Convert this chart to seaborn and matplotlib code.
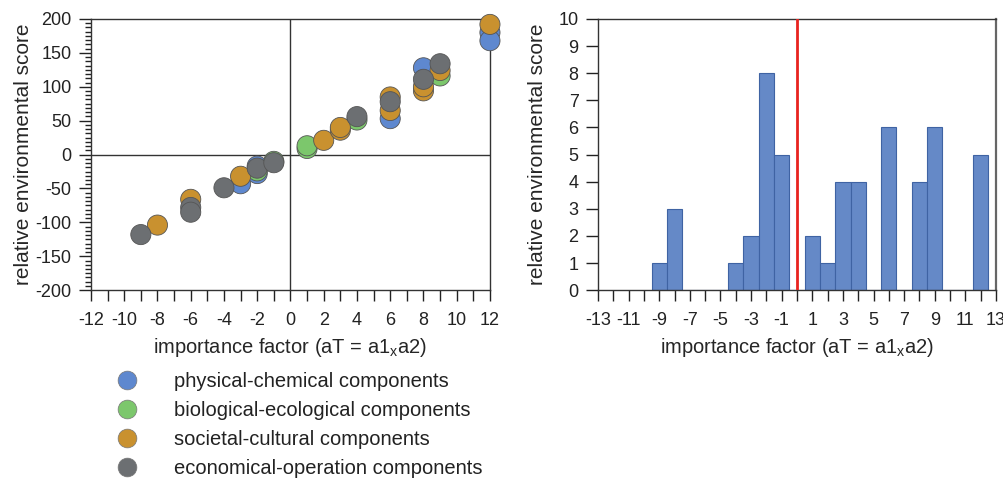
import numpy as np
import pandas as pd
import matplotlib
matplotlib.use("Agg")
import matplotlib.pyplot as plt
from matplotlib.ticker import MultipleLocator, AutoMinorLocator
from matplotlib.lines import Line2D
import seaborn as sns

# ---- data ----
categories = ["physical-chemical components", "biological-ecological components",
              "societal-cultural components", "economical-operation components"]
colors = ["#5E88CF", "#7CC76C", "#C9912F", "#6C6F72"]

phys_x = [-3, -2, -2, 6, 8, 12, 12]
phys_y = [-43, -28, -17, 53, 128, 180, 168]
bio_x = [-2, -1, 1, 1, 4, 9]
bio_y = [-24, -10, 9, 13, 51, 116]
soc_x = [-8, -6, -3, 2, 3, 3, 6, 6, 8, 8, 9, 12]
soc_y = [-104, -66, -32, 21, 36, 40, 65, 85, 94, 100, 124, 192]
eco_x = [-9, -6, -6, -4, -2, -1, 4, 6, 8, 9]
eco_y = [-118, -78, -85, -49, -20, -12, 56, 78, 111, 134]

hist_x = [-9, -8, -4, -3, -2, -1, 1, 2, 3, 4, 6, 8, 9, 12]
hist_counts = [1, 3, 1, 2, 8, 5, 2, 1, 4, 4, 6, 4, 6, 5]

left_xticks = list(range(-12, 13, 2))
right_xticks = list(range(-13, 14, 2))

rows = []
for cat, xs, ys in zip(categories, [phys_x, bio_x, soc_x, eco_x], [phys_y, bio_y, soc_y, eco_y]):
    for x, y in zip(xs, ys):
        rows.append((cat, x, y))
df = pd.DataFrame(rows, columns=["category", "x", "y"])
hdf = pd.DataFrame({"x": hist_x, "count": hist_counts})

# ---- style ----
sns.set_theme(style="white")
plt.rcParams["font.family"] = ["Liberation Sans", "DejaVu Sans"]
plt.rcParams["axes.unicode_minus"] = False
plt.rcParams["axes.edgecolor"] = "#333333"
plt.rcParams["xtick.color"] = "#222222"
plt.rcParams["ytick.color"] = "#222222"
plt.rcParams["text.color"] = "#222222"

fig = plt.figure(figsize=(10.04, 4.82), dpi=100)
ax1 = fig.add_axes([0.0906, 0.398, 0.3974, 0.5626])
ax2 = fig.add_axes([0.5956, 0.398, 0.3964, 0.5626])

# ---- left scatter ----
ax1.axhline(0, color="#333333", lw=1.0, zorder=1)
ax1.axvline(0, color="#333333", lw=1.0, zorder=1)
sns.scatterplot(data=df, x="x", y="y", hue="category", hue_order=categories,
                palette=colors, s=210, edgecolor="#555555", linewidth=0.6,
                legend=False, ax=ax1, zorder=3, clip_on=False)
ax1.set_xlim(-12, 12)
ax1.set_ylim(-200, 200)
ax1.set_xticks(left_xticks)
ax1.xaxis.set_minor_locator(MultipleLocator(1))
ax1.yaxis.set_major_locator(MultipleLocator(50))
ax1.yaxis.set_minor_locator(AutoMinorLocator(8))
ax1.tick_params(axis="both", which="both", direction="out", bottom=True, left=True,
                labelsize=13, width=1.0)
ax1.tick_params(axis="x", which="major", length=8, pad=8)
ax1.tick_params(axis="x", which="minor", length=8)
ax1.tick_params(axis="y", which="major", length=9, pad=5)
ax1.tick_params(axis="y", which="minor", length=4)
ax1.set_xlabel("importance factor (aT = a1$_{\\mathregular{x}}$a2)", fontsize=14.5, labelpad=5)
ax1.set_ylabel("relative environmental score", fontsize=15, labelpad=2)
for sp in ax1.spines.values():
    sp.set_linewidth(1.0)

handles = [Line2D([0], [0], marker="o", linestyle="", markersize=13.5,
                  markerfacecolor=c, markeredgecolor="#777777", markeredgewidth=0.5)
           for c in colors]
fig.legend(handles, categories, loc="upper left", bbox_to_anchor=(0.103, 0.245),
           frameon=False, fontsize=14.5, handletextpad=1.6, labelspacing=0.5,
           borderaxespad=0, handlelength=1.5)

# ---- right histogram ----
sns.histplot(data=hdf, x="x", weights="count", discrete=True, ax=ax2,
             color="#6589C7", edgecolor="#3F63A3", linewidth=0.8, alpha=1, zorder=2)
ax2.axvline(0, color="#E8231F", lw=2.0, zorder=3)
ax2.set_xlim(-13, 13)
ax2.set_ylim(0, 10)
ax2.set_xticks(right_xticks)
ax2.xaxis.set_minor_locator(MultipleLocator(1))
ax2.yaxis.set_major_locator(MultipleLocator(1))
ax2.tick_params(axis="both", which="both", direction="out", bottom=True, left=True,
                labelsize=13, width=1.0)
ax2.tick_params(axis="x", which="both", length=8, pad=8)
ax2.tick_params(axis="y", which="major", length=9, pad=5)
ax2.set_xlabel("importance factor (aT = a1$_{\\mathregular{x}}$a2)", fontsize=14.5, labelpad=5)
ax2.set_ylabel("relative environmental score", fontsize=15, labelpad=8)
for sp in ax2.spines.values():
    sp.set_linewidth(1.0)
ax2.spines["right"].set_linewidth(1.6)
ax2.spines["right"].set_color("#666666")

fig.savefig("out.png", dpi=100)
